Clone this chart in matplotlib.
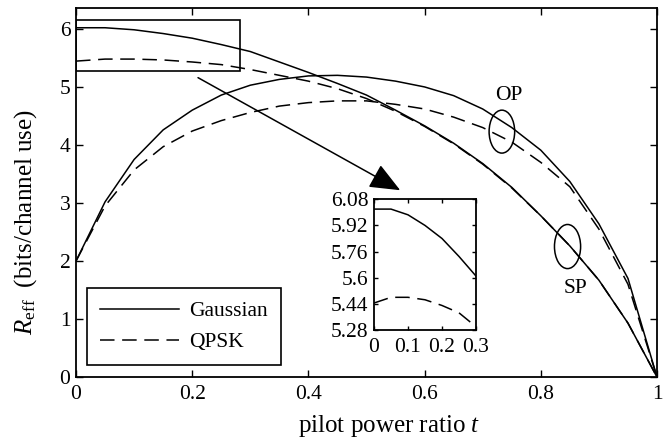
import numpy as np
import matplotlib
matplotlib.use("Agg")
import matplotlib.pyplot as plt
from matplotlib.patches import Rectangle, Ellipse

plt.rcParams['font.family'] = ['Liberation Serif', 'DejaVu Serif']
plt.rcParams['mathtext.fontset'] = 'custom'
plt.rcParams['mathtext.rm'] = 'Liberation Serif'
plt.rcParams['mathtext.it'] = 'Liberation Serif:italic'

# pilot power ratio samples
t = np.linspace(0, 1, 21)

# optimal power (OP) curves, start low
gauss_op = [2.0, 3.02, 3.75, 4.26, 4.60, 4.86, 5.03, 5.13, 5.19, 5.20, 5.17,
            5.10, 5.00, 4.85, 4.62, 4.30, 3.91, 3.37, 2.64, 1.70, 0.0]
qpsk_op = [2.0, 2.95, 3.57, 3.97, 4.24, 4.42, 4.56, 4.67, 4.73, 4.76, 4.76,
           4.70, 4.62, 4.48, 4.30, 4.05, 3.70, 3.28, 2.55, 1.60, 0.0]

# SP curves, start high
gauss_sp = [6.02, 6.02, 5.985, 5.92, 5.84, 5.73, 5.61, 5.43, 5.25, 5.06, 4.86,
            4.60, 4.33, 4.03, 3.68, 3.27, 2.78, 2.26, 1.67, 0.93, 0.0]
qpsk_sp = [5.445, 5.48, 5.48, 5.465, 5.43, 5.385, 5.30, 5.20, 5.10, 4.97, 4.80,
           4.58, 4.32, 4.02, 3.67, 3.26, 2.78, 2.26, 1.67, 0.93, 0.0]

xticks = [0, 0.2, 0.4, 0.6, 0.8, 1]
xticklabels = ['0', '0.2', '0.4', '0.6', '0.8', '1']
yticks = [0, 1, 2, 3, 4, 5, 6]
inset_xticks = [0, 0.1, 0.2, 0.3]
inset_xticklabels = ['0', '0.1', '0.2', '0.3']
inset_yticks = [5.28, 5.44, 5.6, 5.76, 5.92, 6.08]
inset_yticklabels = ['5.28', '5.44', '5.6', '5.76', '5.92', '6.08']

dash = (9.5, 5)
lw = 1.1
fs_tick = 15.5
fs_lab = 18
fs_leg = 15.5

fig = plt.figure(figsize=(6.65, 4.38), dpi=100)
ax = fig.add_axes([0.1143, 0.139, 0.988 - 0.1143, 0.9817 - 0.139])

ax.plot(t, gauss_sp, 'k-', lw=lw, label='Gaussian')
ax.plot(t, qpsk_sp, 'k--', lw=lw, dashes=dash, label='QPSK')
ax.plot(t, gauss_op, 'k-', lw=lw)
ax.plot(t, qpsk_op, 'k--', lw=lw, dashes=dash)

ax.set_xlim(0, 1)
ax.set_ylim(0, 6.36)
ax.set_xticks(xticks)
ax.set_xticklabels(xticklabels)
ax.set_yticks(yticks)
ax.tick_params(direction='in', top=True, right=True, labelsize=fs_tick, length=5, width=1)
ax.tick_params(axis='x', pad=6)
ax.tick_params(axis='y', pad=4)
for s in ax.spines.values():
    s.set_linewidth(1.3)

ax.set_xlabel('pilot power ratio $t$', fontsize=fs_lab)
ax.xaxis.set_label_coords(0.539, -0.098)
ax.set_ylabel(r'$R_{\rm eff}$  (bits/channel use)', fontsize=fs_lab)
ax.yaxis.set_label_coords(-0.11, 0.42)
ax.yaxis.label.set_va('top')

# zoom rectangle and arrow
ax.add_patch(Rectangle((0, 5.28), 0.283, 6.155 - 5.28, fill=False, ec='k', lw=1.2))
ax.annotate('', xy=(0.558, 3.22), xytext=(0.21, 5.16),
            arrowprops=dict(arrowstyle='-|>,head_length=0.95,head_width=0.4',
                            color='k', lw=1.1, mutation_scale=20, shrinkA=0, shrinkB=0))

# OP / SP markers
ax.add_patch(Ellipse((0.733, 4.23), 0.044, 0.74, fill=False, ec='k', lw=1.1))
ax.add_patch(Ellipse((0.846, 2.25), 0.045, 0.76, fill=False, ec='k', lw=1.1))
ax.text(0.745, 4.86, 'OP', fontsize=fs_tick, ha='center', va='center')
ax.text(0.859, 1.52, 'SP', fontsize=fs_tick, ha='center', va='center')

leg = ax.legend(loc='lower left', bbox_to_anchor=(0.0184, 0.0325), fontsize=fs_leg,
                handlelength=3.7, handletextpad=0.47, fancybox=False, edgecolor='k',
                framealpha=1, borderaxespad=0, borderpad=0.6, labelspacing=0.5)
leg.get_frame().set_linewidth(1.2)

# inset
axi = fig.add_axes([0.5624, 0.2466, 0.1534, 0.2984])
axi.plot(t, gauss_sp, 'k-', lw=lw)
axi.plot(t, qpsk_sp, 'k--', lw=lw, dashes=dash)
axi.set_xlim(0, 0.3)
axi.set_ylim(5.28, 6.08)
axi.set_xticks(inset_xticks)
axi.set_xticklabels(inset_xticklabels)
axi.set_yticks(inset_yticks)
axi.set_yticklabels(inset_yticklabels)
axi.tick_params(direction='in', top=True, right=True, labelsize=fs_tick, length=3, width=1)
axi.tick_params(axis='x', pad=6)
axi.tick_params(axis='y', pad=4)
for s in axi.spines.values():
    s.set_linewidth(1.3)

fig.savefig('out.png', dpi=100)
